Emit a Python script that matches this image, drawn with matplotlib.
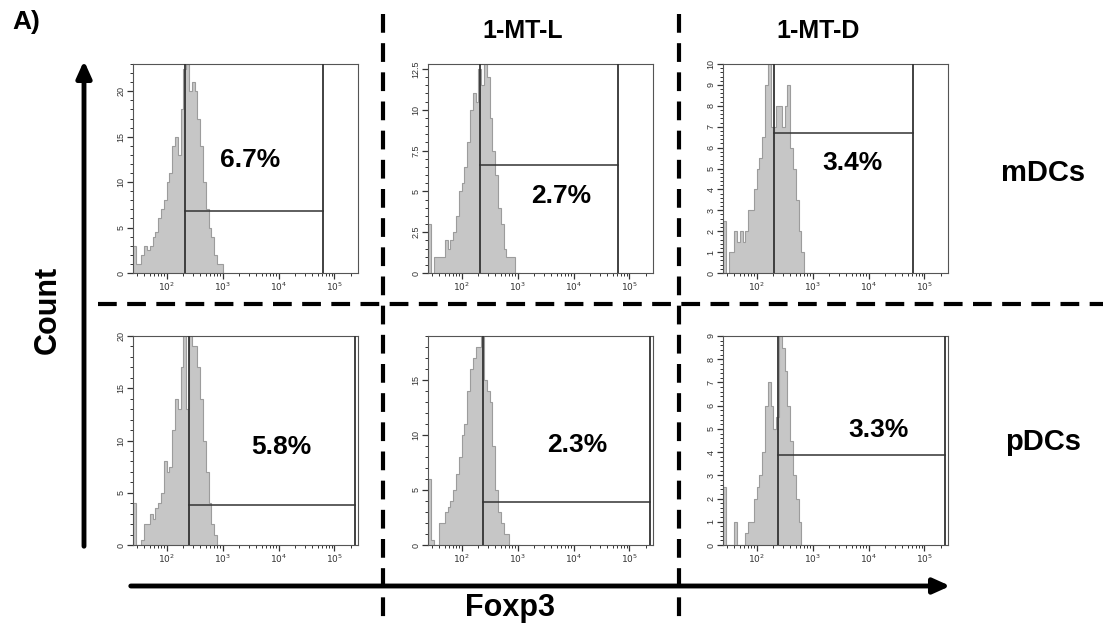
import numpy as np
import matplotlib
matplotlib.use("Agg")
import matplotlib.pyplot as plt
from matplotlib.ticker import MultipleLocator, LogLocator, NullFormatter

plt.rcParams['font.family'] = ['Liberation Sans', 'DejaVu Sans']

# Histogram bins: log10 channels starting at 10^1.4, 0.05 decade wide
LOG_START = 1.40
BIN_W = 0.05

# Counts per bin (rows: mDCs, pDCs; cols: control, 1-MT-L, 1-MT-D)
mdc_ctrl = [3, 1, 1, 2, 3, 2.5, 3, 4, 4.5, 6, 7, 8, 10, 11, 14, 15, 13, 18, 22.5,
            23, 20, 21, 20, 17, 14, 10, 7, 5, 4, 2, 1, 1, 0]
mdc_mtl = [3, 0, 1, 1, 1, 1, 2, 1.5, 2, 2.5, 3.5, 5, 5.5, 6.5, 8, 10, 11, 10.5,
           12.5, 11.5, 12.8, 12, 9.5, 7.5, 6, 4, 3, 1.5, 1, 1, 1, 0, 0]
mdc_mtd = [2.5, 0, 1, 1, 2, 1.5, 2, 1.5, 2, 3, 3, 4, 5, 5.5, 6.5, 9, 10, 7, 7,
           8, 8, 7, 8, 9, 6, 5, 3.5, 2, 1, 0, 0, 0, 0]
pdc_ctrl = [4, 0, 0, 0.5, 2, 2, 3, 2.5, 3.5, 4, 5, 8, 7, 7.5, 11, 14, 13, 17, 20,
            13, 20, 19, 19, 17, 14, 10, 7, 4, 2, 1, 0, 0, 0]
pdc_mtl = [6, 0.5, 0, 0, 2, 2, 3, 3.5, 4, 5, 6.5, 8, 10, 11, 14, 16, 17, 18, 18,
           19, 15, 14, 13, 9, 5, 3, 2, 1, 1, 0, 0, 0, 0]
pdc_mtd = [2.5, 0, 0, 0, 1, 0, 0, 0, 0.5, 1, 1, 2, 2.5, 3, 4, 6, 7, 6, 5, 5.5,
           9, 8.5, 7.5, 6, 4.5, 3, 2, 1, 0, 0, 0, 0, 0]

hists = [mdc_ctrl, mdc_mtl, mdc_mtd, pdc_ctrl, pdc_mtl, pdc_mtd]
percents = ['6.7%', '2.7%', '3.4%', '5.8%', '2.3%', '3.3%']
col_labels = ['', '1-MT-L', '1-MT-D']
row_labels = ['mDCs', 'pDCs']

# gate (low edge, high edge, marker height)
gate_lo = [214, 214, 204, 251, 240, 240]
gate_hi = [6.2e4, 6.2e4, 6.2e4, 2.3e5, 2.3e5, 2.3e5]
gate_y = [6.8, 6.6, 6.7, 3.85, 3.9, 3.87]

y_max = [23, 12.8, 10, 20, 19, 9]
y_major = [[0, 5, 10, 15, 20], [0, 2.5, 5, 7.5, 10, 12.5], list(range(0, 11)),
           [0, 5, 10, 15, 20], [0, 5, 10, 15], list(range(0, 10))]
y_minor = [1, 0.5, 0.2, 1, 1, 0.2]

# label positions in axes fraction
pct_pos = [(0.52, 0.54), (0.59, 0.37), (0.576, 0.526),
           (0.66, 0.47), (0.665, 0.48), (0.69, 0.55)]

W, H = 1103, 633
fig = plt.figure(figsize=(W / 100, H / 100), dpi=100)

# overlay in pixel coords for arrows, dashed dividers and labels
ov = fig.add_axes([0, 0, 1, 1])
ov.set_xlim(0, W)
ov.set_ylim(H, 0)
ov.axis('off')

panel_left = [133, 428, 723]
panel_top = [64, 336]
pw, ph = 225, 209

x_lo = 10 ** LOG_START
x_hi = 10 ** (LOG_START + 4.02)

for k, counts in enumerate(hists):
    r, c = divmod(k, 3)
    l = panel_left[c]
    t = panel_top[r]
    ax = fig.add_axes([l / W, 1 - (t + ph) / H, pw / W, ph / H])
    edges = 10 ** (LOG_START + BIN_W * np.arange(len(counts) + 1))
    ax.stairs(counts, edges, fill=True, color='#c6c6c6', zorder=1)
    ax.stairs(counts, edges, color='#9c9c9c', lw=0.8, zorder=2)

    ax.set_xscale('log')
    ax.set_xlim(x_lo, x_hi)
    ax.set_ylim(0, y_max[k])

    # gate marker
    ax.axvline(gate_lo[k], color='#333333', lw=1.3, zorder=3)
    ax.axvline(gate_hi[k], color='#333333', lw=1.3, zorder=3)
    ax.plot([gate_lo[k], gate_hi[k]], [gate_y[k], gate_y[k]],
            color='#333333', lw=1.1, zorder=3)

    ax.text(pct_pos[k][0], pct_pos[k][1], percents[k], transform=ax.transAxes,
            ha='center', va='center', fontsize=19, fontweight='bold')

    ax.set_xticks([1e2, 1e3, 1e4, 1e5],
                  labels=[r'$10^2$', r'$10^3$', r'$10^4$', r'$10^5$'])
    ax.xaxis.set_minor_locator(LogLocator(base=10, subs=np.arange(2, 10)))
    ax.xaxis.set_minor_formatter(NullFormatter())
    ax.set_yticks(y_major[k],
                  labels=[('%g' % v) for v in y_major[k]])
    ax.yaxis.set_minor_locator(MultipleLocator(y_minor[k]))
    for lab in ax.get_yticklabels():
        lab.set_rotation(90)
        lab.set_va('center')
    ax.tick_params(which='major', length=4, width=0.9, color='#333333',
                   labelsize=6.5, labelcolor='#333333', pad=1.5)
    ax.tick_params(which='minor', length=2.5, width=0.7, color='#333333')
    for sp in ax.spines.values():
        sp.set_color('#555555')
        sp.set_linewidth(0.8)

# dashed dividers
dash = dict(color='black', lw=3, linestyle=(0, (4.5, 2.5)))
ov.plot([383, 383], [14, 620], **dash)
ov.plot([679, 679], [14, 620], **dash)
ov.plot([98, 1103], [304, 304], **dash)

# axis arrows
ov.annotate('', xy=(84, 58), xytext=(84, 549),
            arrowprops=dict(arrowstyle='-|>,head_length=1.0,head_width=0.45',
                            color='black', lw=3.5))
ov.annotate('', xy=(953, 586), xytext=(128, 586),
            arrowprops=dict(arrowstyle='-|>,head_length=1.0,head_width=0.45',
                            color='black', lw=3.5))

ov.text(48, 310, 'Count', rotation=90, ha='center', va='center',
        fontsize=22, fontweight='bold')
ov.text(510, 608, 'Foxp3', ha='center', va='center',
        fontsize=22, fontweight='bold')
ov.text(12, 22, 'A)', ha='left', va='center', fontsize=19, fontweight='bold')

head_x = [0, 523, 818]
for c, lab in enumerate(col_labels):
    if lab:
        ov.text(head_x[c], 31, lab, ha='center', va='center',
                fontsize=18, fontweight='bold')
for r, lab in enumerate(row_labels):
    ov.text(1043, [173, 442][r], lab, ha='center', va='center',
            fontsize=21, fontweight='bold')

fig.savefig('out.png', dpi=100)
